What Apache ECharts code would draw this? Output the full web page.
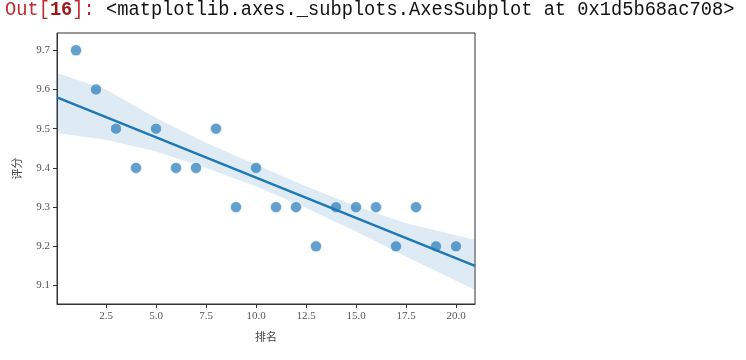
<!DOCTYPE html>
<html>
<head>
<meta charset="utf-8">
<script src="https://cdn.jsdelivr.net/npm/echarts@6/dist/echarts.min.js"></script>
<style>
html,body{margin:0;padding:0;background:#fff;}
#chart{width:746px;height:360px;}
</style>
</head>
<body>
<div id="chart"></div>
<script>
// ---- data ----
const ranks  = [1,2,3,4,5,6,7,8,9,10,11,12,13,14,15,16,17,18,19,20];
const scores = [9.7,9.6,9.5,9.4,9.5,9.4,9.4,9.5,9.3,9.4,9.3,9.3,9.2,9.3,9.3,9.3,9.2,9.3,9.2,9.2];
// regression line endpoints (at the axis limits)
const lineX = [0.05, 20.95];
const lineY = [9.58, 9.15];
// confidence band edges
const bandX     = [0.05, 2.5, 5, 7.5, 10, 12.5, 15, 17.5, 20.95];
const bandUpper = [9.642, 9.600, 9.527, 9.464, 9.408, 9.353, 9.302, 9.259, 9.217];
const bandLower = [9.489, 9.472, 9.442, 9.400, 9.353, 9.298, 9.238, 9.174, 9.089];
// ticks
const xTicks = [2.5, 5, 7.5, 10, 12.5, 15, 17.5, 20];
const yTicks = [9.1, 9.2, 9.3, 9.4, 9.5, 9.6, 9.7];
const xName = '排名';
const yName = '评分';
const header = {prefix: 'Out[', num: '16', suffix: ']: ', text: '<matplotlib.axes._subplots.AxesSubplot at 0x1d5b68ac708>'};

const chart = echarts.init(document.getElementById('chart'), null, {renderer: 'canvas'});
const tickFont = {fontFamily: '"Liberation Serif", "DejaVu Serif", serif', fontSize: 11, color: '#555'};
const bandRows = bandX.map((x, i) => [x, bandLower[i], bandUpper[i]]);

const option = {
  backgroundColor: '#fff',
  animation: false,
  graphic: [{
    type: 'text',
    left: 5,
    top: 0,
    scaleX: 0.935,
    style: {
      text: '{p|' + header.prefix + '}{n|' + header.num + '}{p|' + header.suffix + '}{t|' + header.text + '}',
      rich: {
        p: {fontFamily: '"Liberation Mono", "DejaVu Sans Mono", monospace', fontSize: 20, fill: '#c2272d', lineHeight: 22},
        n: {fontFamily: '"Liberation Mono", "DejaVu Sans Mono", monospace', fontSize: 20, fill: '#9b1b1b', fontWeight: 'bold', lineHeight: 22},
        t: {fontFamily: '"Liberation Mono", "DejaVu Sans Mono", monospace', fontSize: 20, fill: '#111', lineHeight: 22}
      }
    }
  }],
  grid: {left: 57, right: 271, top: 33, bottom: 56, show: true, borderColor: '#333', borderWidth: 1, backgroundColor: '#fff'},
  xAxis: {
    type: 'value', min: 0.05, max: 20.95,
    name: xName, nameLocation: 'middle', nameGap: 27,
    nameTextStyle: {fontFamily: '"Noto Sans CJK SC", sans-serif', fontSize: 11, color: '#444'},
    axisLine: {show: true, lineStyle: {color: '#333', width: 1}},
    axisTick: {show: true, length: 4, lineStyle: {color: '#333'}, customValues: xTicks},
    axisLabel: Object.assign({margin: 7, customValues: xTicks, formatter: v => v.toFixed(1)}, tickFont),
    splitLine: {show: false}
  },
  yAxis: {
    type: 'value', min: 9.053, max: 9.744,
    name: yName, nameLocation: 'middle', nameGap: 35, nameRotate: 90,
    nameTextStyle: {fontFamily: '"Noto Sans CJK SC", sans-serif', fontSize: 11, color: '#444'},
    axisLine: {show: true, lineStyle: {color: '#333', width: 1}},
    axisTick: {show: true, length: 4, lineStyle: {color: '#333'}, customValues: yTicks},
    axisLabel: Object.assign({margin: 7, customValues: yTicks, formatter: v => v.toFixed(1)}, tickFont),
    splitLine: {show: false}
  },
  series: [
    {
      type: 'custom', silent: true, z: 1,
      data: bandRows,
      encode: {x: 0, y: [1, 2]},
      renderItem: function (params, api) {
        if (params.dataIndex !== 0) return null;
        const upper = bandRows.map(r => api.coord([r[0], r[2]]));
        const lower = bandRows.map(r => api.coord([r[0], r[1]])).reverse();
        return {
          type: 'polygon',
          shape: {points: upper.concat(lower)},
          style: {fill: 'rgba(31,119,180,0.15)', stroke: 'none'}
        };
      }
    },
    {
      type: 'scatter', symbolSize: 11,
      data: ranks.map((r, i) => [r, scores[i]]),
      itemStyle: {color: '#3a87c0', borderColor: '#fff', borderWidth: 0.6},
      z: 3
    },
    {
      type: 'line', symbol: 'none',
      data: lineX.map((x, i) => [x, lineY[i]]),
      lineStyle: {color: '#1f77b4', width: 2.5}, z: 4
    }
  ]
};
chart.setOption(option);
</script>
</body>
</html>
